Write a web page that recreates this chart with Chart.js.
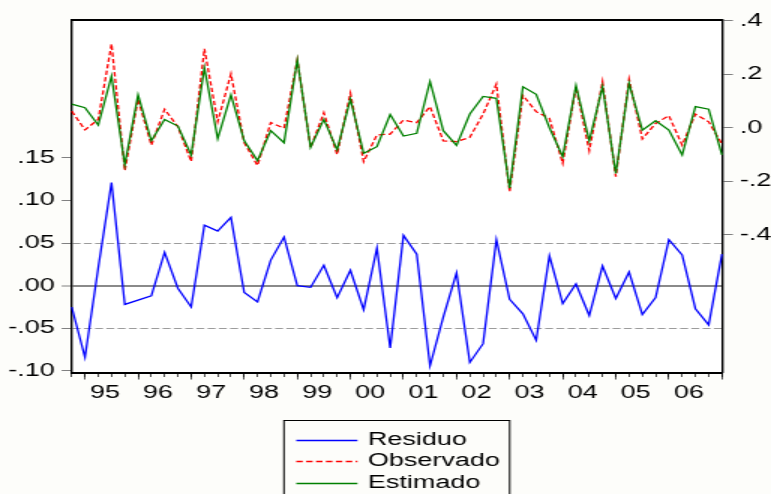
<!DOCTYPE html>
<html>
<head>
<meta charset="utf-8">
<script src="https://cdn.jsdelivr.net/npm/chart.js@4/dist/chart.umd.min.js"></script>
<style>
  html, body { margin: 0; padding: 0; background: #fdfdfa; }
  canvas { display: block; }
</style>
</head>
<body>
<!-- bitmap is drawn 514 wide and shown 1.5x wider -->
<canvas id="chart" width="514" height="494" style="width:771px;height:494px"></canvas>
<script>
// Quarterly observations
const quarters = [
  '1994Q4',
  '1995Q1','1995Q2','1995Q3','1995Q4',
  '1996Q1','1996Q2','1996Q3','1996Q4',
  '1997Q1','1997Q2','1997Q3','1997Q4',
  '1998Q1','1998Q2','1998Q3','1998Q4',
  '1999Q1','1999Q2','1999Q3','1999Q4',
  '2000Q1','2000Q2','2000Q3','2000Q4',
  '2001Q1','2001Q2','2001Q3','2001Q4',
  '2002Q1','2002Q2','2002Q3','2002Q4',
  '2003Q1','2003Q2','2003Q3','2003Q4',
  '2004Q1','2004Q2','2004Q3','2004Q4',
  '2005Q1','2005Q2','2005Q3','2005Q4',
  '2006Q1','2006Q2','2006Q3','2006Q4',
  '2007Q1'
];
const yearLabels = ['95','96','97','98','99','00','01','02','03','04','05','06'];

// Residual (left axis)
const residuo = [
  -0.025, -0.084, 0.021, 0.121, -0.022, -0.017, -0.012, 0.039, -0.003, -0.025,
   0.071,  0.064, 0.080, -0.008, -0.019, 0.030, 0.057, 0.000, -0.002, 0.024,
  -0.014,  0.018, -0.028, 0.044, -0.073, 0.059, 0.037, -0.094, -0.037, 0.015,
  -0.090, -0.068, 0.054, -0.016, -0.033, -0.064, 0.035, -0.021, 0.002, -0.035,
   0.023, -0.015, 0.016, -0.034, -0.014, 0.054, 0.036, -0.027, -0.046, 0.037
];
// Actual (right axis)
const observado = [
   0.062, -0.008, 0.031, 0.313, -0.160, 0.107, -0.065, 0.069, 0.004, -0.126,
   0.295,  0.022, 0.201, -0.056, -0.141, 0.019, -0.002, 0.253, -0.075, 0.056,
  -0.100,  0.129, -0.127, -0.027, -0.024, 0.029, 0.019, 0.079, -0.049, -0.052,
  -0.036,  0.051, 0.163, -0.239, 0.121, 0.060, 0.035, -0.133, 0.153, -0.086,
   0.172, -0.183, 0.181, -0.042, 0.016, 0.045, -0.065, 0.051, 0.022, -0.061
];
// Fitted (right axis)
const estimado = [
   0.088, 0.075, 0.010, 0.193, -0.138, 0.123, -0.049, 0.031, 0.006, -0.102,
   0.224, -0.041, 0.123, -0.049, -0.123, -0.011, -0.056, 0.253, -0.073, 0.031,
  -0.083, 0.107, -0.096, -0.071, 0.049, -0.031, -0.021, 0.173, -0.011, -0.066,
   0.051, 0.117, 0.110, -0.226, 0.153, 0.125, 0.000, -0.108, 0.157, -0.049,
   0.153, -0.171, 0.166, -0.009, 0.026, -0.009, -0.102, 0.079, 0.069, -0.102
];

const residTicks = [-0.10, -0.05, 0, 0.05, 0.10, 0.15];
const residTickLabels = ['-.10', '-.05', '.00', '.05', '.10', '.15'];
const levelTicks = [-0.4, -0.2, 0, 0.2, 0.4];
const levelTickLabels = ['-.4', '-.2', '.0', '.2', '.4'];
const residBand = 0.05;

// ---- layout (bitmap pixels) ----
const W = 514, H = 494;
const frame = { left: 47.8, right: 481.3, top: 20, bottom: 372.5 };
const axisFont = { family: "'Liberation Sans', Arial, sans-serif", size: 18 };
const lastIdx = quarters.length - 1;

const yearStarts = quarters.map((q, i) => q.endsWith('Q1') ? i : -1).filter(i => i >= 0);
const yearCenters = yearLabels.map(l =>
  quarters.findIndex(q => q.slice(2, 4) === l && q.endsWith('Q1')) + 1.5);

function fixBox(size, horizontal) {
  return s => {
    if (horizontal) s.height = size; else s.width = size;
    s.paddingLeft = s.paddingRight = s.paddingTop = s.paddingBottom = 0;
  };
}
const near = (a, b) => Math.abs(a - b) < 1e-9;

const plotBackground = {
  id: 'plotBackground',
  beforeDraw(chart) {
    const { ctx, chartArea: a } = chart;
    ctx.save();
    ctx.fillStyle = '#ffffff';
    ctx.fillRect(a.left, a.top, a.right - a.left, a.bottom - a.top);
    ctx.restore();
  }
};

// Legend stacked in one column, boxed, under the axis labels
const stackedLegend = {
  id: 'stackedLegend',
  afterDraw(chart) {
    const { ctx, chartArea: a } = chart;
    const cx = (a.left + a.right) / 2;
    const boxW = 150.5, top = 420.5;
    const x0 = cx - boxW / 2;
    const rows = [440, 461, 483];
    ctx.save();
    ctx.strokeStyle = '#000';
    ctx.lineWidth = 1;
    ctx.strokeRect(x0, top, boxW, 100);
    ctx.font = `${axisFont.size}px ${axisFont.family}`;
    ctx.textBaseline = 'middle';
    ctx.textAlign = 'left';
    chart.data.datasets.forEach((ds, i) => {
      const y = rows[i] + 0.5;
      ctx.save();
      ctx.beginPath();
      ctx.setLineDash(ds.borderDash || []);
      ctx.strokeStyle = ds.borderColor;
      ctx.lineWidth = 1.3;
      ctx.moveTo(x0 + 8.2, y);
      ctx.lineTo(x0 + 49, y);
      ctx.stroke();
      ctx.restore();
      ctx.fillStyle = '#000';
      ctx.fillText(ds.label, x0 + 56, y);
    });
    ctx.restore();
  }
};

new Chart(document.getElementById('chart'), {
  type: 'line',
  data: {
    labels: quarters,
    datasets: [
      { label: 'Residuo', data: residuo, yAxisID: 'y', borderColor: '#0000ff',
        borderWidth: 1.3, pointRadius: 0, tension: 0, fill: false, order: 3 },
      { label: 'Observado', data: observado, yAxisID: 'y1', borderColor: '#ff0000',
        borderDash: [4.3, 2.3], borderWidth: 1.3, pointRadius: 0, tension: 0, fill: false, order: 2 },
      { label: 'Estimado', data: estimado, yAxisID: 'y1', borderColor: '#008000',
        borderWidth: 1.3, pointRadius: 0, tension: 0, fill: false, order: 1 }
    ]
  },
  options: {
    responsive: false,
    devicePixelRatio: 1,
    animation: false,
    events: [],
    layout: { autoPadding: false, padding: { left: 0, right: 0, top: frame.top, bottom: 0 } },
    plugins: { legend: { display: false }, tooltip: { enabled: false } },
    scales: {
      // quarter tick marks
      x: {
        type: 'category', position: 'bottom', weight: 0, offset: false,
        grid: { display: true, drawOnChartArea: false, drawTicks: true, tickLength: 4.5,
                tickColor: '#000', tickWidth: 0.7, offset: false },
        border: { display: false },
        ticks: { display: false },
        afterFit: fixBox(0, true)
      },
      // year tick marks
      xYear: {
        type: 'linear', position: 'bottom', weight: 1, min: 0, max: lastIdx, bounds: 'data',
        grid: { display: true, drawOnChartArea: false, tickLength: 7, tickColor: '#000', tickWidth: 0.7 },
        border: { display: false },
        ticks: { display: false },
        afterBuildTicks: s => { s.ticks = yearStarts.map(v => ({ value: v })); },
        afterFit: fixBox(0, true)
      },
      // year labels, centred on each year
      xLab: {
        type: 'linear', position: 'bottom', weight: 2, min: 0, max: lastIdx, bounds: 'data',
        grid: { display: false },
        border: { display: true, color: '#000', width: 2 },
        ticks: { font: axisFont, color: '#000', padding: 1.5, autoSkip: false, maxRotation: 0,
                 callback: (v, i) => yearLabels[i] },
        afterBuildTicks: s => { s.ticks = yearCenters.map(v => ({ value: v })); },
        afterFit: fixBox(H - frame.bottom, true)
      },
      xTop: {
        type: 'linear', position: 'top', min: 0, max: lastIdx, bounds: 'data',
        grid: { display: false },
        border: { display: true, color: '#000', width: 2 },
        ticks: { display: false },
        afterFit: fixBox(0, true)
      },
      y: {
        type: 'linear', position: 'left', min: -0.1018, max: 0.3115, bounds: 'data',
        afterBuildTicks: s => { s.ticks = residTicks.map(v => ({ value: v })); },
        ticks: { font: axisFont, color: '#000', padding: 4.7, autoSkip: false,
                 callback: (v, i) => residTickLabels[i] },
        grid: {
          drawOnChartArea: true, tickLength: 6.7, tickColor: '#808080', tickWidth: 1,
          color: c => {
            if (c.type !== 'tick') return 'rgba(0,0,0,0)';
            const v = c.tick.value;
            if (near(v, 0)) return '#8a8a8a';
            if (near(Math.abs(v), residBand)) return '#9c9c9c';
            return 'rgba(0,0,0,0)';
          },
          lineWidth: c => (c.tick && near(c.tick.value, 0)) ? 2 : 1
        },
        border: {
          display: true, color: '#000', width: 1.4,
          dash: c => (c.type === 'tick' && near(Math.abs(c.tick.value), residBand)) ? [5.3, 2.2] : []
        },
        afterFit: fixBox(frame.left, false)
      },
      y1: {
        type: 'linear', position: 'right', min: -0.915, max: 0.4026, bounds: 'data',
        afterBuildTicks: s => { s.ticks = levelTicks.map(v => ({ value: v })); },
        ticks: { font: axisFont, color: '#000', padding: 4.7, autoSkip: false,
                 callback: (v, i) => levelTickLabels[i] },
        grid: { drawOnChartArea: false, tickLength: 7.3, tickColor: '#808080', tickWidth: 1 },
        border: { display: true, color: '#000', width: 1.4 },
        afterFit: fixBox(W - frame.right, false)
      }
    }
  },
  plugins: [plotBackground, stackedLegend]
});
</script>
</body>
</html>
